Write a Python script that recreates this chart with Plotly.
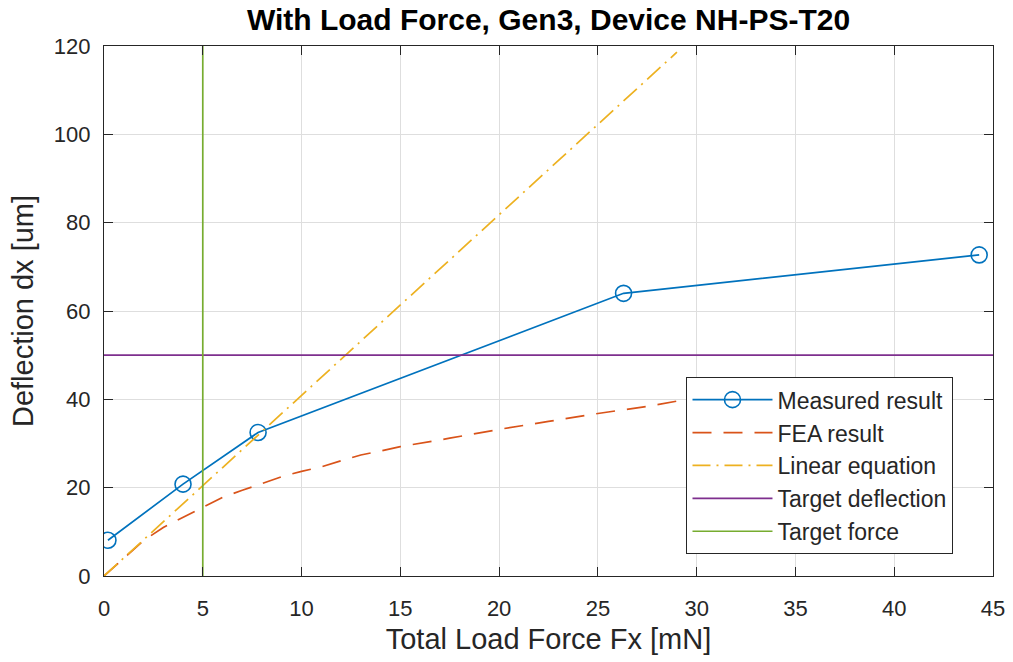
import plotly.graph_objects as go

# Measured deflection vs. applied load
force_measured = [0.2, 4.0, 7.8, 26.3, 44.3]
defl_measured = [8.1, 20.8, 32.5, 64.0, 72.7]

# FEA simulation result
force_fea = [0, 1, 2, 3, 4, 5, 6, 7, 8, 9, 10, 11, 12, 13, 14, 15,
             17.5, 20, 22.5, 25, 27.5, 29]
defl_fea = [0, 4.1, 8.0, 11.0, 13.3, 15.6, 17.8, 19.4, 20.9, 22.5, 23.7,
            24.7, 26.1, 27.4, 28.3, 29.3, 31.2, 33.2, 35.0, 36.8, 38.4, 39.6]

# Linear (small-deflection) equation
force_linear = [0, 29]
defl_linear = [0, 118.6]

# Design targets
target_deflection = 50
target_force = 5
x_range = [0, 45]
y_range = [0, 120]

x_ticks = list(range(0, 46, 5))
y_ticks = list(range(0, 121, 20))

BLUE = "#0072BD"
ORANGE = "#D95319"
YELLOW = "#EDB120"
PURPLE = "#7E2F8E"
GREEN = "#77AC30"
AXIS = "#262626"
FONT = "Liberation Sans, Arial, Helvetica, sans-serif"
LW = 1.7

fig = go.Figure()
fig.add_trace(go.Scatter(
    x=force_measured, y=defl_measured, mode="lines+markers",
    name="Measured result",
    line=dict(color=BLUE, width=LW),
    marker=dict(symbol="circle-open", size=16, color=BLUE, line=dict(width=1.6)),
))
fig.add_trace(go.Scatter(
    x=force_fea, y=defl_fea, mode="lines", name="FEA result",
    line=dict(color=ORANGE, width=LW, dash="19px,12px"),
))
fig.add_trace(go.Scatter(
    x=force_linear, y=defl_linear, mode="lines", name="Linear equation",
    line=dict(color=YELLOW, width=LW, dash="18px,6px,2px,6px"),
))
fig.add_trace(go.Scatter(
    x=x_range, y=[target_deflection] * 2, mode="lines",
    name="Target deflection",
    line=dict(color=PURPLE, width=LW),
))
fig.add_trace(go.Scatter(
    x=[target_force] * 2, y=y_range, mode="lines", name="Target force",
    line=dict(color=GREEN, width=LW),
))

axis_common = dict(
    showline=True, linecolor=AXIS, linewidth=1.2, mirror="ticks",
    ticks="inside", ticklen=9, tickwidth=1.2, tickcolor=AXIS,
    showgrid=True, gridcolor="#dedede", gridwidth=1,
    zeroline=False, tickfont=dict(family=FONT, size=22, color=AXIS),
    automargin=False,
)

fig.update_xaxes(
    range=x_range, tickvals=x_ticks, ticklabelstandoff=12,
    title=dict(text="Total Load Force Fx [mN]", standoff=9,
               font=dict(family=FONT, size=29, color=AXIS)),
    **axis_common,
)
fig.update_yaxes(
    range=y_range, tickvals=y_ticks, ticklabelstandoff=8,
    title=dict(text="Deflection dx [um]", standoff=11,
               font=dict(family=FONT, size=29, color=AXIS)),
    **axis_common,
)

fig.update_layout(
    width=1013, height=662,
    margin=dict(l=104, r=20, t=46, b=86),
    paper_bgcolor="white", plot_bgcolor="white",
    title=dict(text="<b>With Load Force, Gen3, Device NH-PS-T20</b>",
               x=0.5, xref="paper", y=0.97, yref="container",
               yanchor="middle",
               font=dict(family=FONT, size=30, color="black")),
    legend=dict(
        x=0.655, y=0.3755, xanchor="left", yanchor="top",
        bgcolor="white", bordercolor=AXIS, borderwidth=1.2,
        font=dict(family=FONT, size=23, color=AXIS),
        itemwidth=80, tracegroupgap=0,
    ),
    showlegend=True,
)

fig.write_html("out.html")
